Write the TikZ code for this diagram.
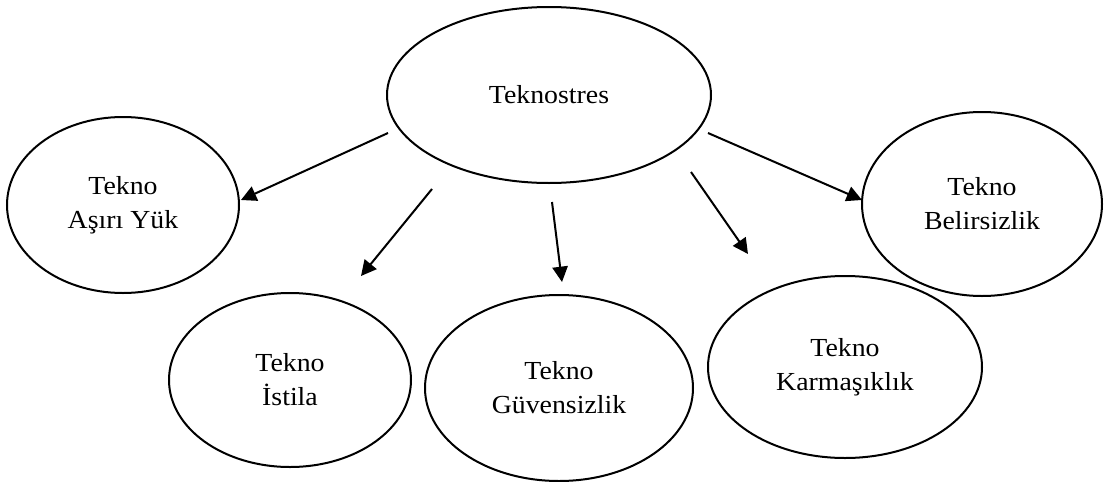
\documentclass[tikz,border=0pt]{standalone}
\usepackage{fontspec}
\setmainfont{Liberation Serif}[FakeStretch=1.07]
\usetikzlibrary{shapes.geometric,arrows.meta}
\begin{document}
\begin{tikzpicture}[x=0.75pt,y=-0.75pt,
  bubble/.style={draw,ellipse,line width=1.5pt,inner sep=0pt,align=center,
    font=\fontsize{19.5}{25.5}\selectfont},
  link/.style={line width=1.5pt,-{Triangle[length=11.5pt,width=11.5pt]}}]
\useasboundingbox (0,0) rectangle (1104,482);
\node[bubble,minimum width=243pt,minimum height=132pt] (top) at (549,95) {Teknostres};
\node[bubble,minimum width=174pt,minimum height=132pt] (ayuk) at (123,205) {Tekno\\Aşırı Yük};
\node[bubble,minimum width=181.5pt,minimum height=130.5pt] (ist) at (290,380) {Tekno\\İstila};
\node[bubble,minimum width=201pt,minimum height=139.5pt] (guv) at (559,388) {Tekno\\Güvensizlik};
\node[bubble,minimum width=205.5pt,minimum height=136.5pt] (kar) at (845,367) {Tekno\\Karmaşıklık};
\node[bubble,minimum width=180pt,minimum height=138pt] (bel) at (982,204) {Tekno\\Belirsizlik};
\coordinate (s1) at (388,133); \coordinate (e1) at (241,200);
\coordinate (s2) at (432,189); \coordinate (e2) at (361,276);
\coordinate (s3) at (552,202); \coordinate (e3) at (562,282);
\coordinate (s4) at (691,172); \coordinate (e4) at (748,254);
\coordinate (s5) at (708,133); \coordinate (e5) at (862,200);
\draw[link] (s1) -- (e1);
\draw[link] (s2) -- (e2);
\draw[link] (s3) -- (e3);
\draw[link] (s4) -- (e4);
\draw[link] (s5) -- (e5);
\end{tikzpicture}
\end{document}
